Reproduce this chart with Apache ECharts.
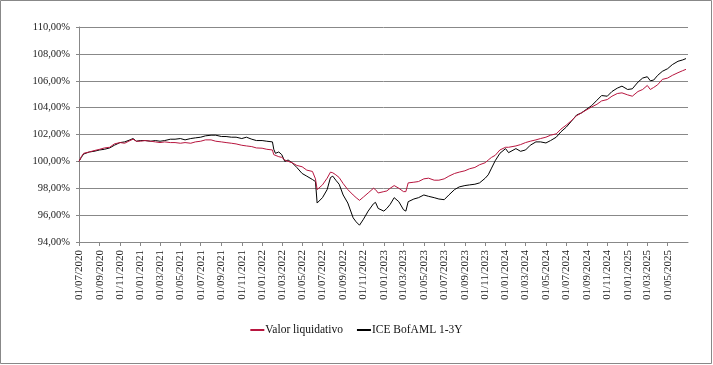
<!DOCTYPE html>
<html>
<head>
<meta charset="utf-8">
<script src="https://cdn.jsdelivr.net/npm/echarts@6/dist/echarts.min.js"></script>
<style>
html,body{margin:0;padding:0;background:#fff;}
#chart{width:713px;height:365px;}
</style>
</head>
<body>
<div id="chart"></div>
<script>
var seriesNames = ['Valor liquidativo', 'ICE BofAML 1-3Y'];

var dates = [
'2020-07-01','2020-07-08','2020-07-15','2020-08-01','2020-08-15','2020-09-01','2020-09-15','2020-10-01','2020-10-15','2020-11-01','2020-11-15','2020-12-01','2020-12-10','2020-12-20',
'2021-01-01','2021-01-15','2021-02-01','2021-02-15','2021-03-01','2021-03-15','2021-04-01','2021-04-15','2021-05-01','2021-05-15','2021-06-01','2021-06-15','2021-07-01','2021-07-15','2021-08-01','2021-08-15','2021-09-01','2021-09-15','2021-10-01','2021-10-15','2021-11-01','2021-11-15','2021-12-01','2021-12-15',
'2022-01-01','2022-01-15','2022-02-01','2022-02-05','2022-02-10','2022-02-20','2022-03-01','2022-03-10','2022-03-20','2022-04-01','2022-04-15','2022-05-01','2022-05-15','2022-06-01','2022-06-10','2022-06-15','2022-07-01','2022-07-15','2022-07-25','2022-08-01','2022-08-10','2022-08-20','2022-09-01','2022-09-15','2022-10-01','2022-10-10','2022-10-20','2022-11-01','2022-11-15','2022-12-01','2022-12-07','2022-12-15',
'2023-01-01','2023-01-10','2023-01-20','2023-02-01','2023-02-15','2023-03-01','2023-03-08','2023-03-15','2023-04-01','2023-04-15','2023-05-01','2023-05-15','2023-06-01','2023-06-15','2023-07-01','2023-07-15','2023-08-01','2023-08-15','2023-09-01','2023-09-15','2023-10-01','2023-10-15','2023-11-01','2023-11-10','2023-11-20','2023-12-01','2023-12-15',
'2024-01-01','2024-01-10','2024-01-15','2024-02-01','2024-02-15','2024-03-01','2024-03-15','2024-04-01','2024-04-15','2024-05-01','2024-05-15','2024-06-01','2024-06-15','2024-07-01','2024-07-15','2024-08-01','2024-08-15','2024-09-01','2024-09-15','2024-10-01','2024-10-15','2024-11-01','2024-11-15','2024-12-01','2024-12-15',
'2025-01-01','2025-01-15','2025-02-01','2025-02-15','2025-03-01','2025-03-10','2025-03-20','2025-04-01','2025-04-15','2025-05-01','2025-05-15','2025-06-01','2025-06-15','2025-06-25'
];

var valorLiquidativo = [
100.0,100.35,100.6,100.7,100.8,100.9,101.0,101.05,101.3,101.4,101.35,101.55,101.65,101.5,
101.5,101.55,101.5,101.45,101.4,101.45,101.4,101.4,101.35,101.4,101.35,101.45,101.5,101.6,101.6,101.5,101.45,101.4,101.35,101.3,101.2,101.15,101.1,101.0,
100.98,100.9,100.85,100.5,100.4,100.35,100.3,100.1,100.0,99.9,99.7,99.6,99.35,99.25,98.7,97.9,98.25,98.75,99.2,99.15,99.0,98.8,98.35,97.9,97.5,97.3,97.1,97.35,97.65,98.0,97.9,97.65,
97.75,97.8,98.0,98.2,98.0,97.75,97.75,98.4,98.45,98.5,98.7,98.75,98.6,98.6,98.7,98.9,99.1,99.2,99.3,99.45,99.55,99.75,99.9,100.1,100.3,100.45,100.85,
101.05,101.05,101.05,101.15,101.25,101.4,101.5,101.6,101.7,101.8,101.95,102.05,102.4,102.7,103.0,103.4,103.6,103.85,104.05,104.25,104.5,104.6,104.85,105.05,105.1,
104.95,104.85,105.2,105.35,105.65,105.35,105.5,105.7,106.1,106.2,106.4,106.6,106.75,106.85
];

var iceBofAML = [
100.0,100.3,100.55,100.7,100.75,100.85,100.9,101.0,101.2,101.4,101.45,101.6,101.7,101.5,
101.55,101.55,101.5,101.55,101.5,101.55,101.65,101.65,101.7,101.6,101.7,101.75,101.8,101.9,101.95,101.95,101.85,101.85,101.8,101.8,101.7,101.8,101.65,101.55,
101.55,101.5,101.45,100.9,100.6,100.7,100.5,100.0,100.1,99.9,99.55,99.1,98.9,98.65,98.5,96.9,97.3,97.9,98.8,98.9,98.6,98.3,97.5,96.9,95.8,95.5,95.25,95.7,96.3,96.85,96.95,96.5,
96.3,96.5,96.8,97.3,97.0,96.4,96.3,97.0,97.2,97.3,97.5,97.4,97.3,97.2,97.15,97.5,97.9,98.1,98.2,98.25,98.3,98.4,98.75,99.0,99.5,100.05,100.6,
100.95,100.65,100.75,100.95,100.75,100.85,101.2,101.45,101.45,101.37,101.55,101.8,102.2,102.55,102.95,103.45,103.6,103.9,104.15,104.55,104.9,104.85,105.2,105.45,105.6,
105.35,105.4,105.9,106.2,106.3,106.0,106.05,106.4,106.7,106.9,107.2,107.45,107.55,107.65
];

var tickDates = [
'2020-07-01','2020-09-01','2020-11-01','2021-01-01','2021-03-01','2021-05-01','2021-07-01','2021-09-01','2021-11-01',
'2022-01-01','2022-03-01','2022-05-01','2022-07-01','2022-09-01','2022-11-01',
'2023-01-01','2023-03-01','2023-05-01','2023-07-01','2023-09-01','2023-11-01',
'2024-01-01','2024-03-01','2024-05-01','2024-07-01','2024-09-01','2024-11-01',
'2025-01-01','2025-03-01','2025-05-01'
];

var yMin = 94, yMax = 110, yStep = 2;
var xStart = '2020-07-01', xEnd = '2025-07-01';

function ts(s){ var p = s.split('-'); return Date.UTC(+p[0], +p[1]-1, +p[2]); }
function pairs(vals){ return dates.map(function(d,i){ return [ts(d), vals[i]]; }); }
function pad(n){ return (n<10?'0':'')+n; }

var FONT = '"Liberation Serif", "Times New Roman", serif';
var RED = '#B8163F';
var tickTs = tickDates.map(ts);
var chart = echarts.init(document.getElementById('chart'), null, {renderer:'canvas'});
chart.setOption({
  animation:false,
  backgroundColor:'#ffffff',
  graphic:[{type:'rect', shape:{x:0.5,y:0.5,width:711,height:363}, style:{fill:'none', stroke:'#888888', lineWidth:1}, silent:true}],
  grid:{left:79, right:25, top:27, bottom:123, containLabel:false},
  legend:{
    data:seriesNames, bottom:24, left:'center', itemWidth:14, itemHeight:2, itemGap:14,
    icon:'rect',
    textStyle:{fontFamily:FONT, fontSize:11.5, color:'#111', padding:[0,0,0,-4]}
  },
  xAxis:{
    type:'value', min:ts(xStart), max:ts(xEnd),
    axisLine:{show:true, lineStyle:{color:'#888888', width:1}},
    axisTick:{show:true, length:4, lineStyle:{color:'#888888'}, customValues:tickTs},
    axisLabel:{
      rotate:90, margin:8, fontFamily:FONT, fontSize:11, color:'#222',
      customValues:tickTs,
      formatter:function(v){ var d=new Date(v); return pad(d.getUTCDate())+'/'+pad(d.getUTCMonth()+1)+'/'+d.getUTCFullYear(); }
    },
    splitLine:{show:false}
  },
  yAxis:{
    type:'value', min:yMin, max:yMax, interval:yStep,
    axisLine:{show:true, lineStyle:{color:'#888888', width:1}},
    axisTick:{show:true, length:3, lineStyle:{color:'#888888'}},
    axisLabel:{margin:9, fontFamily:FONT, fontSize:10.5, color:'#222',
      formatter:function(v){ return v.toFixed(2).replace('.',',')+'%'; }},
    splitLine:{show:true, lineStyle:{color:'#888888', width:1}}
  },
  series:[
    {name:seriesNames[0], type:'line', data:pairs(valorLiquidativo), showSymbol:false, symbol:'none',
     lineStyle:{color:RED, width:1}, itemStyle:{color:RED}, z:3},
    {name:seriesNames[1], type:'line', data:pairs(iceBofAML), showSymbol:false, symbol:'none',
     lineStyle:{color:'#000000', width:1}, itemStyle:{color:'#000000'}, z:2}
  ]
});
</script>
</body>
</html>
